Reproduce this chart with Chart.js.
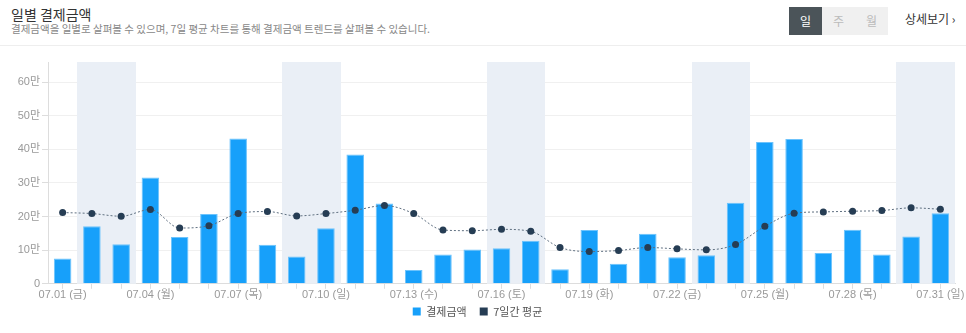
<!DOCTYPE html>
<html>
<head>
<meta charset="utf-8">
<script src="https://cdn.jsdelivr.net/npm/chart.js@4"></script>
<style>
  html, body { margin: 0; padding: 0; background: #fff; }
  body { width: 966px; height: 333px; position: relative; overflow: hidden;
         font-family: 'Liberation Sans', 'Noto Sans CJK KR', sans-serif; }
  .title { position: absolute; left: 11px; top: 4px; font-size: 14px; color: #333; font-family: 'Noto Sans CJK KR', sans-serif; }
  .desc { position: absolute; left: 11px; top: 21px; font-size: 10.5px; color: #888; font-family: 'Noto Sans CJK KR', sans-serif; }
  .tabs { position: absolute; left: 789px; top: 7px; display: flex; }
  .tabs span { width: 33px; height: 28px; line-height: 28px; text-align: center; font-size: 12px;
               background: #f0f0f0; color: #bbb; font-family: 'Noto Sans CJK KR', sans-serif; }
  .tabs span.on { background: #4b5459; color: #fff; }
  .more { position: absolute; left: 905px; top: 10px; font-size: 12px; color: #333; font-family: 'Noto Sans CJK KR', sans-serif; }
  .line { position: absolute; left: 0; top: 45px; width: 966px; height: 1px; background: #eee; }
  .wrap { position: absolute; left: 0; top: 46px; width: 966px; height: 290px; }
</style>
</head>
<body>
<div class="title">일별 결제금액</div>
<div class="desc">결제금액을 일별로 살펴볼 수 있으며, 7일 평균 차트를 통해 결제금액 트렌드를 살펴볼 수 있습니다.</div>
<div class="tabs"><span class="on">일</span><span>주</span><span>월</span></div>
<div class="more">상세보기 ›</div>
<div class="line"></div>
<div class="wrap"><canvas id="chart"></canvas></div>
<script>
// July dates and day names
const dates = ['07.01','07.02','07.03','07.04','07.05','07.06','07.07','07.08','07.09','07.10',
               '07.11','07.12','07.13','07.14','07.15','07.16','07.17','07.18','07.19','07.20',
               '07.21','07.22','07.23','07.24','07.25','07.26','07.27','07.28','07.29','07.30','07.31'];
const weekdays = ['금','토','일','월','화','수','목','금','토','일',
                  '월','화','수','목','금','토','일','월','화','수',
                  '목','금','토','일','월','화','수','목','금','토','일'];

// daily payment amount (won)
const payments = [75000, 171000, 118000, 316000, 139000, 208000, 432000, 116000, 81000, 165000,
                  385000, 239000, 41000, 87000, 102000, 106000, 128000, 43000, 160000, 60000,
                  149000, 79000, 85000, 241000, 422000, 431000, 92000, 161000, 87000, 141000, 210000];

// 7 day average (won)
const average7 = [212000, 209000, 201000, 221000, 166000, 173000, 209000, 215000, 202000, 209000,
                  219000, 233000, 209000, 160000, 158000, 162000, 156000, 108000, 96000, 99000,
                  108000, 104000, 101000, 117000, 171000, 210000, 214000, 216000, 218000, 226000, 222000];

// y axis ticks (won)
const yTicks = [0, 100000, 200000, 300000, 400000, 500000, 600000];

const labels = dates.map((d, i) => d + ' (' + weekdays[i] + ')');

// draw light band behind saturdays and sundays
const weekendBands = {
    id: 'weekendBands',
    beforeDatasetsDraw(chart) {
        const { ctx, chartArea, scales } = chart;
        const x = scales.x;
        const half = (x.getPixelForValue(1) - x.getPixelForValue(0)) / 2;
        ctx.save();
        ctx.fillStyle = '#eaeff6';
        weekdays.forEach((w, i) => {
            if (w === '토' || w === '일') {
                const c = x.getPixelForValue(i);
                const l = Math.round(c - half), r = Math.round(c + half);
                ctx.fillRect(l, chartArea.top, r - l, chartArea.bottom - chartArea.top);
            }
        });
        ctx.restore();
    }
};

// legend padding also spaces the items apart, so pull it back up closer to the axis
const liftLegend = {
    id: 'liftLegend',
    afterLayout(chart) {
        chart.legend.top -= 9;
        chart.legend.bottom -= 9;
    }
};

const font = { family: "'Liberation Sans', 'Noto Sans CJK KR', sans-serif", size: 11 };

new Chart(document.getElementById('chart'), {
    type: 'bar',
    data: {
        labels: labels,
        datasets: [
            {
                label: '결제금액',
                data: payments,
                backgroundColor: '#17a0fa',
                borderColor: '#6cc3fc',
                borderWidth: 1,
                barPercentage: 0.6,
                categoryPercentage: 1,
                order: 1
            },
            {
                type: 'line',
                label: '7일간 평균',
                data: average7,
                borderColor: '#5f6f80',
                backgroundColor: '#263d54',
                borderWidth: 1,
                borderDash: [2, 2],
                pointRadius: 3.5,
                pointBackgroundColor: '#263d54',
                pointBorderWidth: 0,
                cubicInterpolationMode: 'monotone',
                order: 0
            }
        ]
    },
    options: {
        responsive: true,
        maintainAspectRatio: false,
        animation: false,
        layout: { padding: { top: 16, right: 11, left: 0, bottom: 0 } },
        scales: {
            x: {
                grid: { display: true, drawOnChartArea: false, offset: false, tickLength: 5, color: '#ddd' },
                border: { color: '#ddd' },
                ticks: {
                    autoSkip: false,
                    maxRotation: 0,
                    color: '#999',
                    font: font,
                    padding: 0,
                    callback: (v, i) => i % 3 === 0 ? labels[i] : ''
                },
                afterFit: (scale) => { scale.paddingRight = 0; scale.paddingLeft = 0; }
            },
            y: {
                min: 0,
                max: 660000,
                grid: { color: '#f0f0f0', tickLength: 6, tickColor: '#ddd' },
                border: { color: '#ddd' },
                ticks: {
                    color: '#999',
                    font: font,
                    padding: 2,
                    callback: (v) => v === 0 ? '0' : (v / 10000) + '만'
                },
                afterBuildTicks: (scale) => { scale.ticks = yTicks.map(v => ({ value: v })); },
                afterFit: (scale) => { scale.width = 48; }
            }
        },
        plugins: {
            legend: {
                position: 'bottom',
                labels: {
                    boxWidth: 8,
                    boxHeight: 8,
                    padding: 13,
                    color: '#555',
                    font: { family: "'Noto Sans CJK KR', sans-serif", size: 11 },
                    sort: (a, b) => a.datasetIndex - b.datasetIndex,
                    generateLabels: (chart) => Chart.defaults.plugins.legend.labels.generateLabels(chart).map(item => {
                        item.strokeStyle = item.fillStyle;
                        item.lineWidth = 0;
                        item.lineDash = [];
                        return item;
                    })
                }
            },
            tooltip: { enabled: false }
        }
    },
    plugins: [weekendBands, liftLegend]
});
</script>
</body>
</html>
